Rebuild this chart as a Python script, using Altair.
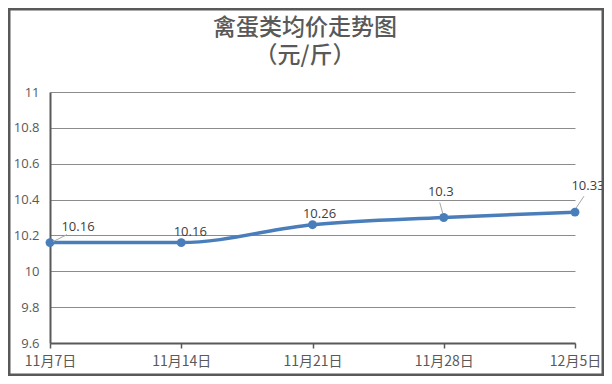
import altair as alt
import pandas as pd

dates = ["11月7日", "11月14日", "11月21日", "11月28日", "12月5日"]
prices = [10.16, 10.16, 10.26, 10.3, 10.33]
labels = ["10.16", "10.16", "10.26", "10.3", "10.33"]
y_ticks = [9.6, 9.8, 10, 10.2, 10.4, 10.6, 10.8, 11]
title_lines = ["禽蛋类均价走势图", "（元/斤）"]

df = pd.DataFrame({"date": dates, "price": prices, "label": labels, "i": list(range(len(dates)))})

W, H = 525, 251
BLUE = "#4A7EBB"
GRAY = "#595959"
NUM_FONT = "Open Sans"
CJK_FONT = "Noto Sans CJK SC"

x_enc = alt.X("date:O", sort=dates,
              scale=alt.Scale(type="point", padding=0),
              axis=alt.Axis(title=None, labelAngle=0, labelFont=CJK_FONT, labelFontSize=14,
                            labelColor=GRAY, domainColor=GRAY, domainWidth=2,
                            tickColor=GRAY, tickWidth=1.5, tickSize=5, labelPadding=6,
                            grid=False))
y_enc = alt.Y("price:Q",
              scale=alt.Scale(domain=[9.6, 11], nice=False, zero=False),
              axis=alt.Axis(title=None, values=y_ticks, format="~g", labelFont=NUM_FONT,
                            labelFontSize=13, labelColor=GRAY, domainColor=GRAY, domainWidth=2,
                            ticks=False, tickSize=0, labelPadding=11,
                            grid=True, gridColor="#8c8c8c", gridWidth=1))

base = alt.Chart(df)

line = base.mark_line(color=BLUE, strokeWidth=3.5, interpolate="monotone").encode(x=x_enc, y=y_enc)
pts = base.mark_circle(color=BLUE, size=80, opacity=1).encode(x=x_enc, y=y_enc)

# label placements (per point)
offs = [(28, -16, True), (9, -11, False), (7, -11, False), (-3, -26, True), (13, -26, True)]
text_layers = []
for i, (dx, dy, lead) in enumerate(offs):
    sub = base.transform_filter(alt.datum.i == i)
    text_layers.append(sub.mark_text(dx=dx, dy=dy, font=NUM_FONT, fontSize=13, color="#404040",
                                     baseline="middle").encode(x=x_enc, y=y_enc, text="label:N"))
    if lead:
        if i == 0:
            o = dict(xOffset=3, yOffset=-1, x2Offset=17, y2Offset=-8)
        elif i == 3:
            o = dict(xOffset=-1, yOffset=-4, x2Offset=-4, y2Offset=-15)
        else:
            o = dict(xOffset=1, yOffset=-4, x2Offset=9, y2Offset=-16)
        text_layers.append(sub.mark_rule(color="#a6a6a6", strokeWidth=1, **o).encode(
            x=x_enc, y=y_enc, x2="date:O", y2="price:Q"))

one = alt.Data(values=[{}])
border = alt.Chart(one).mark_rect(fill=None, stroke=GRAY, strokeWidth=3).encode(
    x=alt.value(-41), x2=alt.value(553), y=alt.value(-83), y2=alt.value(283))
title = alt.Chart(one).mark_text(text=title_lines, font=CJK_FONT, fontSize=23, fontWeight=500,
                                 lineHeight=28, color=GRAY, baseline="middle").encode(
    x=alt.value(255), y=alt.value(-64))

chart = alt.layer(line, pts, *text_layers, border, title).properties(
    width=W, height=H,
    autosize=alt.AutoSizeParams(type="none"),
    padding={"left": 42, "top": 84, "right": 29, "bottom": 33},
    background="white",
).configure_view(stroke=None)

chart.save("out.html", embed_options={"renderer": "svg", "actions": False})
